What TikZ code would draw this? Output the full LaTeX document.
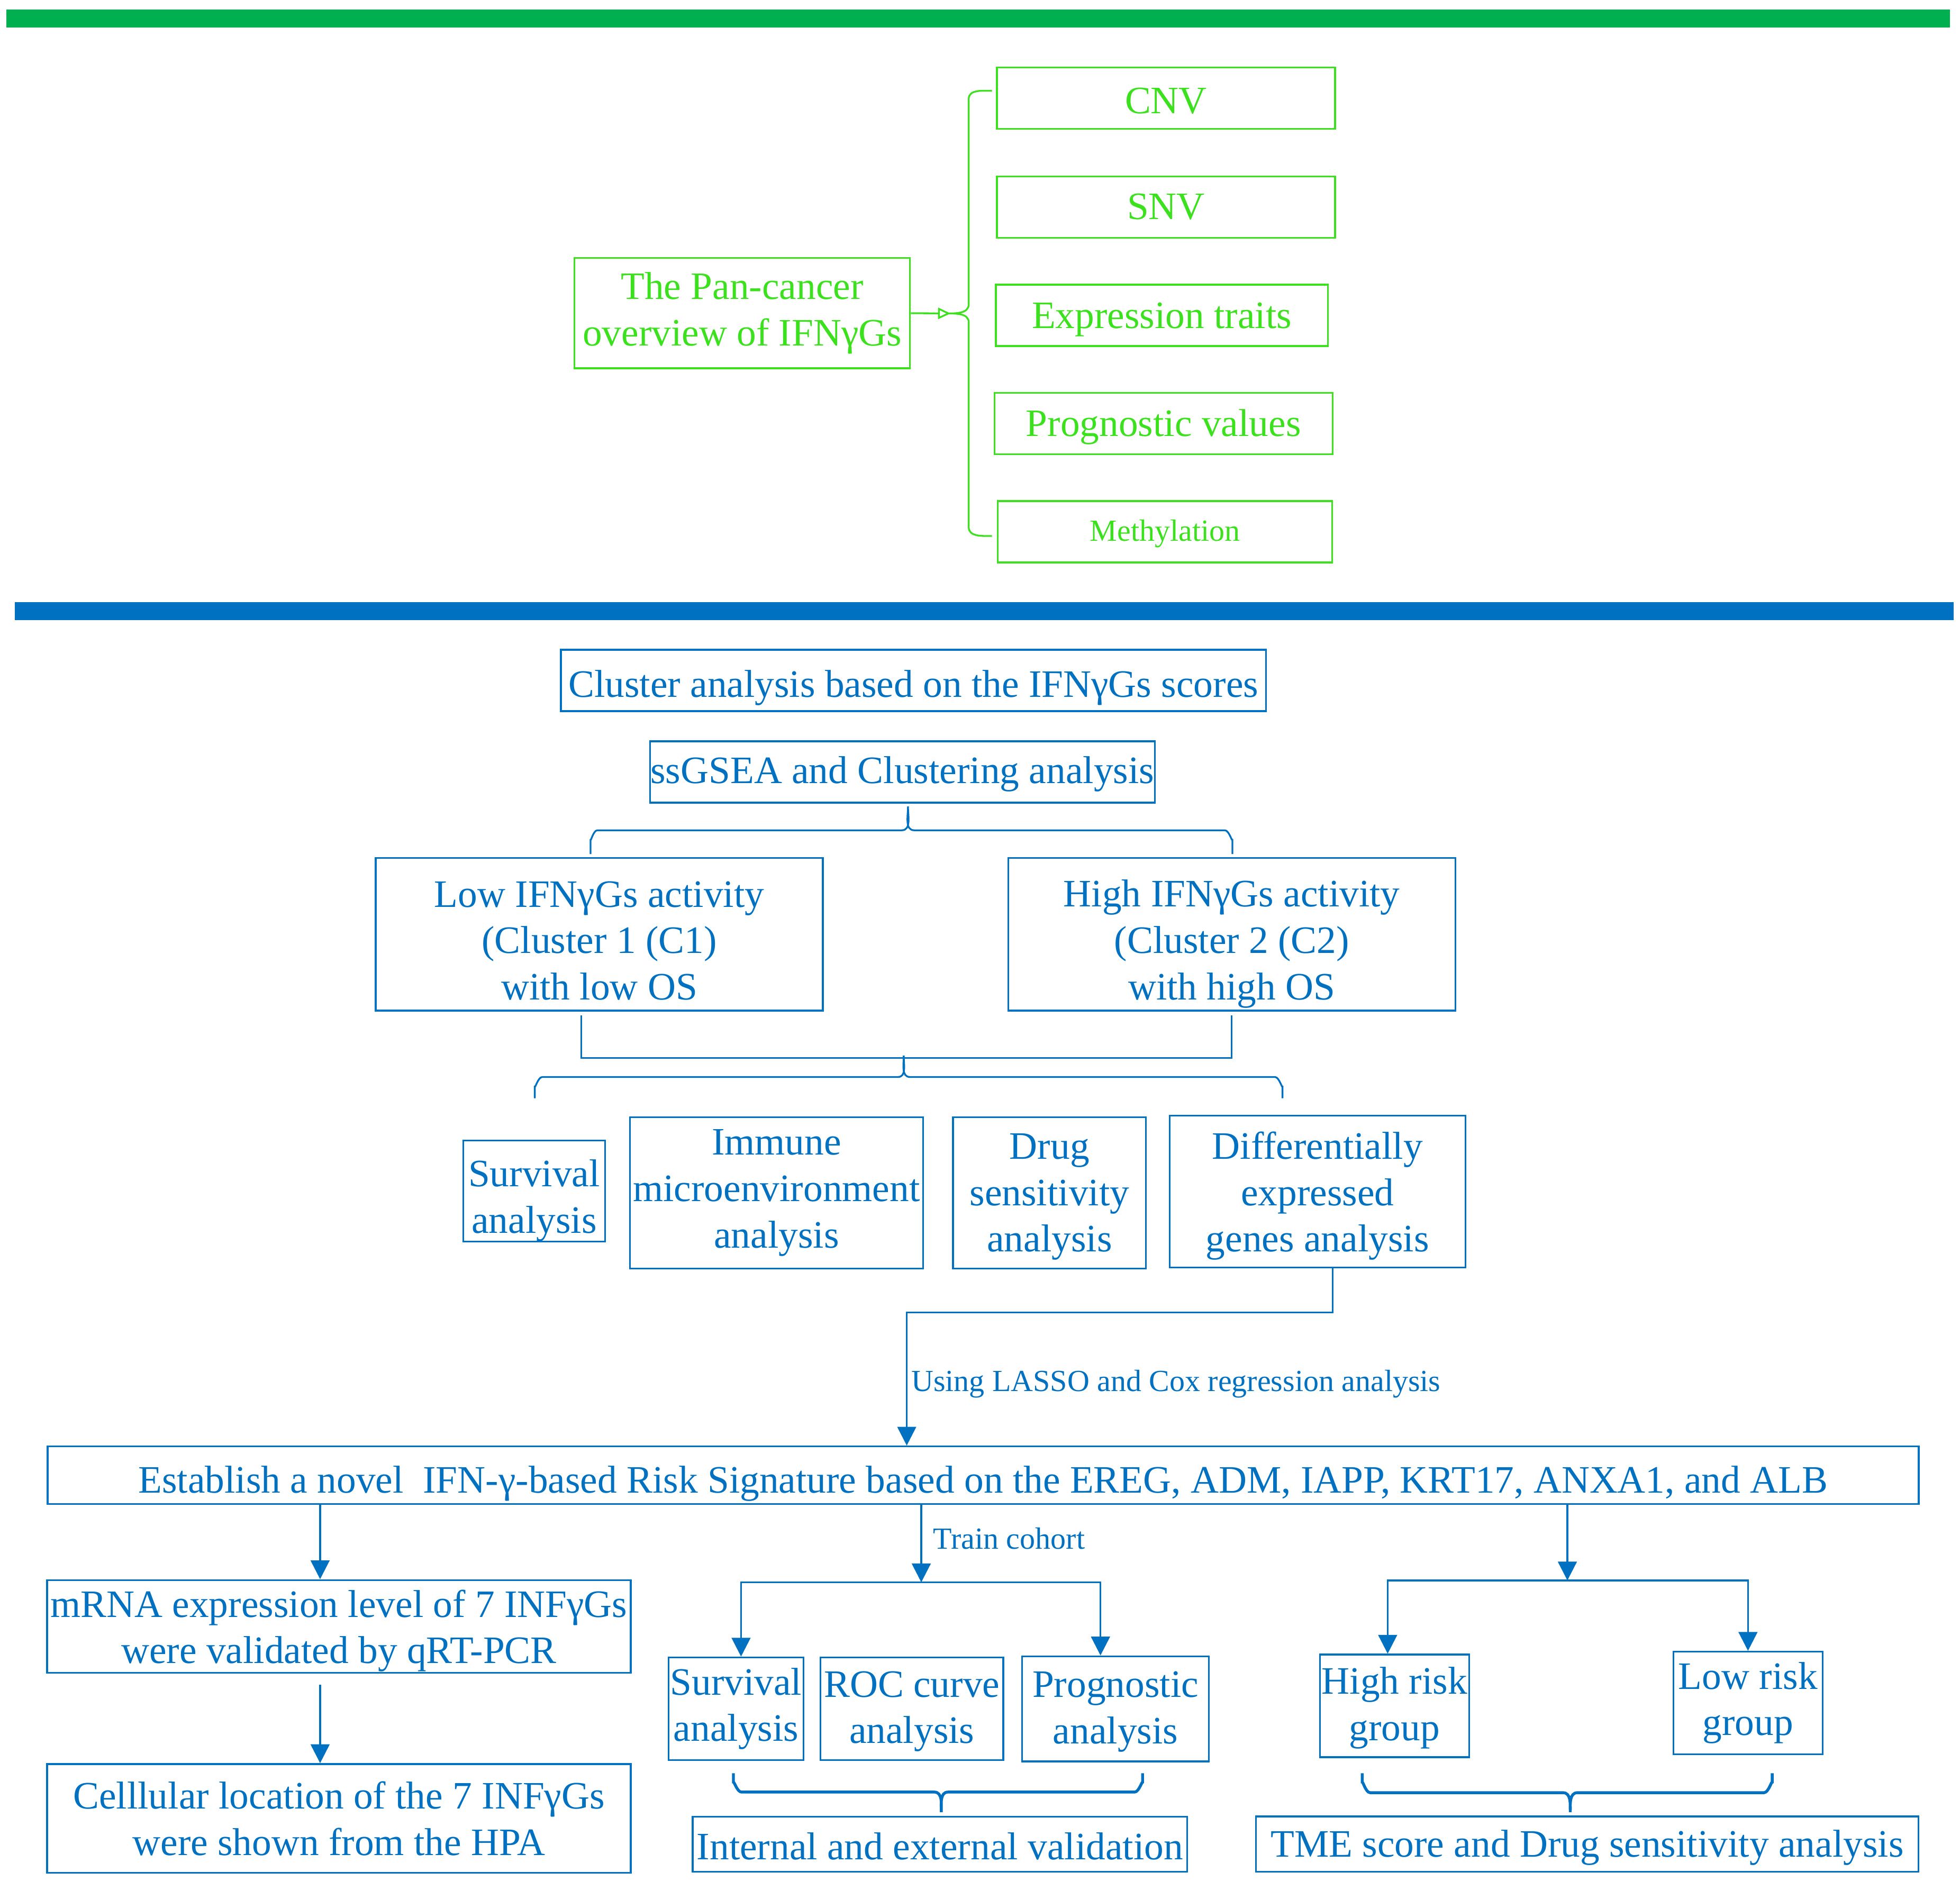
\documentclass[tikz,border=0pt]{standalone}
\usepackage{fontspec}
\setmainfont{Liberation Serif}
\usetikzlibrary{arrows.meta,calc}
\definecolor{barGreen}{HTML}{00B050}
\definecolor{boxGreen}{RGB}{60,225,30}
\definecolor{flowBlue}{HTML}{0070C0}

% invisible strut that pushes the text of a box a little down
\newcommand{\padtop}[1]{\rule{0pt}{#1pt}}

\tikzset{
  gbox/.style={draw=boxGreen, text=boxGreen, line width=1.4pt, inner sep=0pt, align=center, font=\fontsize{31}{37}\selectfont},
  bbox/.style={draw=flowBlue, text=flowBlue, line width=1.4pt, inner sep=0pt, align=center, font=\fontsize{31}{37}\selectfont},
  link/.style={draw=flowBlue, line width=1.4pt},
  arr/.style={link, -{Triangle[length=15pt,width=15pt]}},
  smalltext/.style={text=flowBlue, font=\fontsize{24.5}{29}\selectfont},
}

\begin{document}
\begin{tikzpicture}[x=1pt, y=-1pt]
    \useasboundingbox (0,0) rectangle (1565,1502);

    % Section bars
    \draw[barGreen, line width=14.4pt] (5,14.8) -- (1557,14.8);
    \draw[flowBlue, line width=14pt] (12,488) -- (1560,488);

    % Pan-cancer overview
    \node[gbox, minimum width=268pt, minimum height=88pt] (pan) at (592.6,250.1) {The Pan-cancer\\overview of IFNγGs};
    \node[gbox, minimum width=270pt, minimum height=49pt] (cnv) at (931,78.3) {\padtop{25}CNV};
    \node[gbox, minimum width=270pt, minimum height=49pt] (snv) at (931,165.3) {SNV};
    \node[gbox, minimum width=265pt, minimum height=49pt] (expr) at (927.7,251.8) {\padtop{27}Expression traits};
    \node[gbox, minimum width=270pt, minimum height=49pt] (progval) at (929,338.2) {\padtop{27}Prognostic values};
    \node[gbox, minimum width=267pt, minimum height=49pt, font=\fontsize{24.5}{29}\selectfont] (meth) at (930.2,424.6) {\padtop{20}Methylation};

    % Bracket over the five traits
    \coordinate (gtip) at (759,250.3);
    \draw[boxGreen, line width=1.4pt, -{Triangle[open,length=10pt,width=9pt]}] (pan.east) -- (gtip);
    \draw[boxGreen, line width=1.4pt] (792,72.5) to[out=180,in=90] (773.5,79) -- (773.5,243)
        to[out=-90,in=0] (756.5,250.3) to[out=0,in=90] (773.5,257.5) -- (773.5,421)
        to[out=-90,in=180] (792,428);

    % Clustering
    \node[bbox, minimum width=563pt, minimum height=49pt] (clus) at (729.3,543.3) {\padtop{33}Cluster analysis based on the IFNγGs scores};
    \node[bbox, minimum width=403pt, minimum height=49pt] (ssgsea) at (720.5,616.5) {\padtop{25}ssGSEA and Clustering analysis};
    \draw[link] (471.5,682) -- (471.5,670) to[out=-90,in=180] (477,663) -- (720,663)
        to[out=0,in=-90] (725,644) to[out=-90,in=180] (730,663) -- (978,663)
        to[out=0,in=-90] (984,670) -- (984,682);

    \node[bbox, minimum width=357pt, minimum height=122pt] (low) at (478.5,746) {\padtop{31}Low IFNγGs activity\\(Cluster 1 (C1)\\with low OS};
    \node[bbox, minimum width=357pt, minimum height=122pt] (high) at (983.5,746) {\padtop{37}High IFNγGs activity\\(Cluster 2 (C2)\\with high OS};

    % Joining both clusters
    \draw[link] ($(low.south)+(-14.5,3)$) |- ($(high.south)+(0,37)$) -- ($(high.south)+(0,3)$);
    \draw[link] (427,877) -- (427,867) to[out=-90,in=180] (433,860) -- (717,860)
        to[out=0,in=-90] (721.6,843) to[out=-90,in=180] (726.5,860) -- (1018,860)
        to[out=0,in=-90] (1024,867) -- (1024,877);

    % Analyses of the clusters
    \node[bbox, minimum width=113pt, minimum height=78pt] (surv) at (426.5,951) {\padtop{37}Survival\\analysis};
    \node[bbox, minimum width=234pt, minimum height=121pt] (immune) at (620,952.5) {Immune\\microenvironment\\analysis};
    \node[bbox, minimum width=154pt, minimum height=121pt] (drug) at (838,952.5) {\padtop{27}Drug\\sensitivity\\analysis};
    \node[bbox, minimum width=236pt, minimum height=121pt] (deg) at (1052,951.5) {\padtop{29}Differentially\\expressed\\genes analysis};

    % Risk signature
    \node[bbox, minimum width=1494pt, minimum height=46pt] (sig) at (785,1178) {\padtop{35}Establish a novel\ \ IFN-γ-based Risk Signature based on the EREG, ADM, IAPP, KRT17, ANXA1, and ALB};
    \coordinate (lassoturn) at (724,1048);
    \draw[arr] ($(deg.south)+(12,0)$) |- (lassoturn) -- (lassoturn |- sig.north)
        node[midway, right, smalltext, inner sep=3pt, yshift=-4pt] {Using LASSO and Cox regression analysis};

    % Validation branch
    \node[bbox, minimum width=466pt, minimum height=74pt] (mrna) at (270.6,1298.7) {\padtop{29}mRNA expression level of 7 INFγGs\\were validated by qRT-PCR};
    \node[bbox, minimum width=466pt, minimum height=87pt] (hpa) at (270.6,1452.1) {Celllular location of the 7 INFγGs\\were shown from the HPA};
    \draw[arr] ($(sig.south -| mrna.north)+(-15,0)$) -- ($(mrna.north)+(-15,0)$);
    \draw[arr] ($(mrna.south)+(-15,9)$) -- ($(hpa.north)+(-15,0)$);

    % Train cohort branch
    \node[bbox, minimum width=108pt, minimum height=82pt] (survtrain) at (587.7,1364.5) {Survival\\analysis};
    \node[bbox, minimum width=146pt, minimum height=82pt] (roc) at (728.1,1364.5) {\padtop{25}ROC curve\\analysis};
    \node[bbox, minimum width=149pt, minimum height=84pt] (progtrain) at (890.7,1364.6) {\padtop{25}Prognostic\\analysis};
    \node[bbox, minimum width=395pt, minimum height=44pt] (valid) at (750.5,1472.6) {\padtop{25}Internal and external validation};
    \coordinate (trainfork) at (735.6,1263.5);
    \draw[arr] (sig.south -| trainfork) -- (trainfork)
        node[midway, right, smalltext, inner sep=3pt, xshift=6pt, yshift=4pt] {Train cohort};
    \draw[arr] (trainfork) -| ($(survtrain.north)+(4,0)$);
    \draw[arr] (trainfork) -| ($(progtrain.north)+(-12,0)$);
    \draw[flowBlue, line width=2.3pt] (585.6,1416) -- (585.6,1424) to[out=90,in=180] (592,1431) -- (746,1431)
        to[out=0,in=90] (751.6,1447) to[out=90,in=180] (757,1431) -- (906,1431)
        to[out=0,in=90] (912.3,1424) -- (912.3,1416);

    % Risk groups branch
    \node[bbox, minimum width=119pt, minimum height=82pt] (highrisk) at (1113.5,1362.2) {\padtop{25}High risk\\group};
    \node[bbox, minimum width=119pt, minimum height=82pt] (lowrisk) at (1395.7,1359.9) {Low risk\\group};
    \node[bbox, minimum width=529pt, minimum height=44pt] (tme) at (1267.3,1472.5) {\padtop{27}TME score and Drug sensitivity analysis};
    \coordinate (riskfork) at (1251.5,1262);
    \draw[arr] (sig.south -| riskfork) -- (riskfork);
    \draw[arr] (riskfork) -| ($(highrisk.north)+(-5.5,0)$);
    \draw[arr] (riskfork) -| (lowrisk.north);
    \draw[flowBlue, line width=2.3pt] (1087.7,1416) -- (1087.7,1424) to[out=90,in=180] (1094,1431.5) -- (1248,1431.5)
        to[out=0,in=90] (1253.8,1447) to[out=90,in=180] (1259.5,1431.5) -- (1408.5,1431.5)
        to[out=0,in=90] (1415,1424) -- (1415,1416);
\end{tikzpicture}
\end{document}
